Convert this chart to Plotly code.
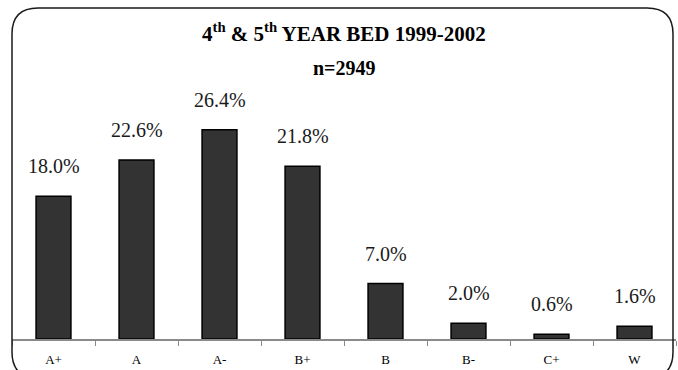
import plotly.graph_objects as go

# Grade distribution
grades = ["A+", "A", "A-", "B+", "B", "B-", "C+", "W"]
percents = [18.0, 22.6, 26.4, 21.8, 7.0, 2.0, 0.6, 1.6]
title_line1 = "<b>4<sup>th</sup> & 5<sup>th</sup> YEAR BED 1999-2002</b>"
title_line2 = "<b>n=2949</b>"

W, H = 678, 370
ML, MR, MT, MB = 12, 2, 22, 31
PW, PH = W - ML - MR, H - MT - MB
SERIF = "Liberation Serif, Times New Roman, serif"


def px_to_paper(x, y):
    return (x - ML) / PW, (H - MB - y) / PH


def rounded_box(x0, y0, x1, y1, r):
    def p(x, y):
        a, b = px_to_paper(x, y)
        return f"{a:.5f},{b:.5f}"
    return (
        f"M {p(x0 + r, y0)} L {p(x1 - r, y0)} Q {p(x1, y0)} {p(x1, y0 + r)} "
        f"L {p(x1, y1 - r)} Q {p(x1, y1)} {p(x1 - r, y1)} "
        f"L {p(x0 + r, y1)} Q {p(x0, y1)} {p(x0, y1 - r)} "
        f"L {p(x0, y0 + r)} Q {p(x0, y0)} {p(x0 + r, y0)} Z"
    )


fig = go.Figure(
    go.Bar(
        x=grades,
        y=percents,
        marker=dict(color="#333333", line=dict(color="#000000", width=1.5)),
        hoverinfo="skip",
    )
)

for g, v in zip(grades, percents):
    fig.add_annotation(
        x=g, y=v, text=f"{v:.1f}%", showarrow=False, yanchor="middle", yshift=30,
        font=dict(family=SERIF, size=20, color="#1a1a1a"),
    )

t1x, t1y = px_to_paper(342, 32)
t2x, t2y = px_to_paper(344, 68)
fig.add_annotation(x=0.5, y=t1y, xref="paper", yref="paper", text=title_line1,
                   showarrow=False, yanchor="middle",
                   font=dict(family=SERIF, size=21, color="#000000"))
fig.add_annotation(x=0.5, y=t2y, xref="paper", yref="paper", text=title_line2,
                   showarrow=False, yanchor="middle",
                   font=dict(family=SERIF, size=20, color="#000000"))

fig.add_shape(type="path", xref="paper", yref="paper",
              path=rounded_box(12, 8, 673, 378, 26),
              line=dict(color="#1a1a1a", width=1.5), layer="above")

fig.update_layout(
    width=W, height=H,
    margin=dict(l=ML, r=MR, t=MT, b=MB, pad=0),
    paper_bgcolor="white", plot_bgcolor="white",
    bargap=0.58, showlegend=False,
    xaxis=dict(
        type="category", showline=True, linecolor="#8a8a8a", linewidth=2,
        ticks="outside", tickson="boundaries", ticklen=5, tickcolor="#8a8a8a",
        tickwidth=1, showgrid=False, zeroline=False, ticklabelstandoff=7,
        tickfont=dict(family=SERIF, size=13, color="#000000"),
    ),
    yaxis=dict(range=[0, 40], visible=False, showgrid=False, zeroline=False),
)

fig.write_html("out.html")
